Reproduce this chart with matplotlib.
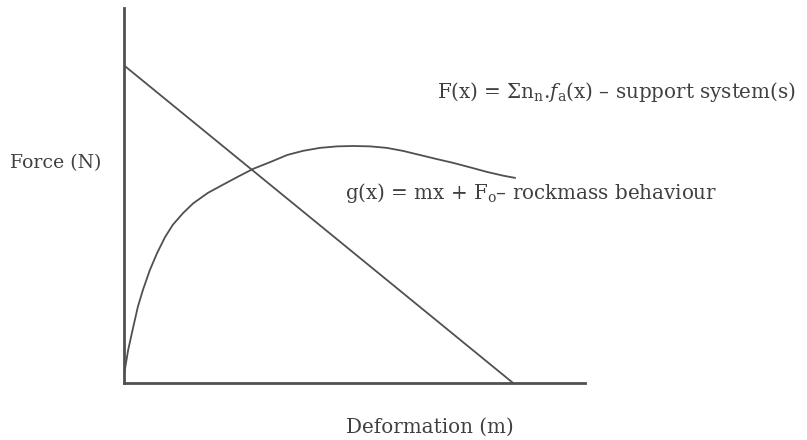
import matplotlib
matplotlib.use("Agg")
import matplotlib.pyplot as plt

# Support system line (straight, decreasing)
support_x = [0.2, 84.4]
support_y = [84.5, 0.0]

# Rockmass behaviour curve
rock_x = [0.1, 0.9, 2.0, 3.0, 4.1, 5.6, 7.2, 8.9, 10.6, 12.8, 15.0, 18.2, 21.5,
          24.7, 28.0, 31.7, 35.4, 38.8, 42.5, 46.2, 49.7, 53.4, 57.0, 60.5,
          64.2, 67.9, 71.4, 75.1, 78.7, 82.2, 84.8]
rock_y = [2.9, 8.8, 14.9, 20.3, 24.8, 30.1, 34.7, 38.9, 42.2, 45.3, 47.9, 50.7,
          52.9, 55.0, 57.1, 58.9, 60.8, 61.9, 62.7, 63.1, 63.2, 63.1, 62.7,
          61.9, 60.8, 59.7, 58.7, 57.5, 56.3, 55.3, 54.7]

x_label = "Deformation (m)"
y_label = "Force (N)"
support_label = r"F(x) = Σn$_{\mathrm{n}}$.$f_{\mathrm{a}}$(x) – support system(s)"
rock_label = r"g(x) = mx + F$_{\mathrm{o}}$– rockmass behaviour"

plt.rcParams["font.family"] = ["DejaVu Serif"]
plt.rcParams["mathtext.fontset"] = "dejavuserif"

line_col = "#505050"
text_col = "#404040"

fig = plt.figure(figsize=(8.07, 4.40), dpi=100)
ax = fig.add_axes([124 / 807, 57 / 440, 461 / 807, 375 / 440])
ax.set_xlim(0, 100)
ax.set_ylim(0, 100)

ax.plot(support_x, support_y, color=line_col, lw=1.3, clip_on=False)
ax.plot(rock_x, rock_y, color=line_col, lw=1.3, clip_on=False,
        solid_joinstyle="round")

for s in ["top", "right"]:
    ax.spines[s].set_visible(False)
for s in ["left", "bottom"]:
    ax.spines[s].set_linewidth(2.0)
    ax.spines[s].set_color(line_col)
ax.set_xticks([])
ax.set_yticks([])

fs = 14.3
fig.text(10 / 807, 1 - 163 / 440, y_label, ha="left", va="center",
         fontsize=13.6, color=text_col)
fig.text(430 / 807, 1 - 427 / 440, x_label, ha="center", va="center",
         fontsize=fs, color=text_col)
fig.text(437 / 807, 1 - 92 / 440, support_label, ha="left", va="center",
         fontsize=fs, color=text_col)
fig.text(345 / 807, 1 - 193 / 440, rock_label, ha="left", va="center",
         fontsize=fs, color=text_col)

fig.savefig("out.png", dpi=100)
